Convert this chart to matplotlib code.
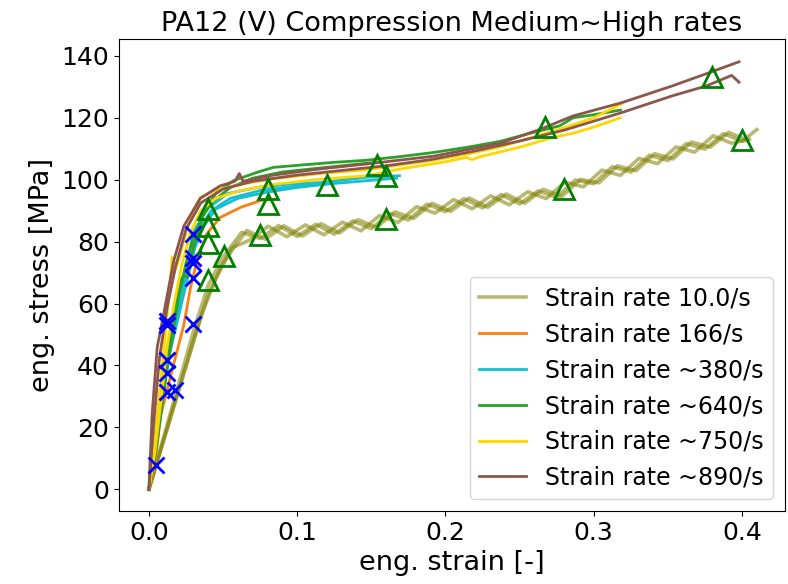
import matplotlib
matplotlib.use("Agg")
import matplotlib.pyplot as plt

# ---------------- data ----------------
labels = ["Strain rate 10.0/s", "Strain rate 166/s", "Strain rate ~380/s",
          "Strain rate ~640/s", "Strain rate ~750/s", "Strain rate ~890/s"]
colors = ["olive", "tab:orange", "tab:cyan", "tab:green", "gold", "tab:brown"]

# 10/s (three tests)
strain_10 = [
    [0, 0.01, 0.02, 0.03, 0.04, 0.05, 0.0625, 0.075, 0.0875, 0.1, 0.1125, 0.125, 0.1375, 0.15,
     0.1625, 0.175, 0.1875, 0.2, 0.2125, 0.225, 0.2375, 0.25, 0.2625, 0.275, 0.2875, 0.3,
     0.3125, 0.325, 0.3375, 0.35, 0.3625, 0.375, 0.3875, 0.4, 0.41],
    [0, 0.012, 0.024, 0.036, 0.046, 0.056, 0.068, 0.0805, 0.093, 0.1055, 0.118, 0.1305, 0.143,
     0.1555, 0.168, 0.1805, 0.193, 0.2055, 0.218, 0.2305, 0.243, 0.2555, 0.268, 0.2805, 0.293,
     0.3055, 0.318, 0.3305, 0.343, 0.3555, 0.368, 0.3805, 0.393, 0.405],
    [0, 0.01, 0.02, 0.03, 0.04, 0.05, 0.058, 0.066, 0.0785, 0.091, 0.1035, 0.116, 0.1285, 0.141,
     0.1535, 0.166, 0.1785, 0.191, 0.2035, 0.216, 0.2285, 0.241, 0.2535, 0.266, 0.2785, 0.291,
     0.3035, 0.316, 0.3285, 0.341, 0.3535, 0.366, 0.3785, 0.391, 0.4035],
]
stress_10 = [
    [0, 17, 34, 51, 66, 75, 83.0, 81.0, 85.2, 81.7, 85.6, 82.4, 86.7, 84.2, 89.1, 87.0, 92.1,
     89.7, 93.9, 90.9, 95.2, 92.2, 96.4, 94.3, 99.9, 98.7, 104.2, 102.5, 107.9, 106.2, 111.7,
     109.9, 114.9, 112.4, 116.2],
    [0, 19, 38, 57, 69, 78, 80.5, 85.0, 81.6, 85.4, 82.2, 86.3, 83.5, 88.4, 86.2, 91.3, 89.2,
     93.6, 90.6, 94.8, 91.9, 96.1, 93.9, 99.2, 97.7, 103.1, 101.4, 106.9, 105.2, 110.6, 108.9,
     114.2, 111.8, 113.0],
    [0, 16, 32, 48, 63, 73, 78.5, 83.6, 80.8, 85.1, 81.8, 85.8, 82.8, 87.1, 84.6, 89.6, 87.5,
     92.4, 89.8, 94.1, 91.1, 95.4, 92.4, 96.9, 94.6, 100.1, 99.0, 104.5, 102.9, 108.4, 106.7,
     112.2, 110.5, 115.3, 112.8],
]

# 166/s
strain_166 = [[0, 0.004, 0.008, 0.017, 0.0235, 0.028, 0.0325, 0.039, 0.048, 0.062, 0.075, 0.08]]
stress_166 = [[0, 8, 24, 41, 53, 65, 74, 82.5, 87.8, 91.1, 93.2, 93.6]]

# ~380/s
strain_380 = [
    [0, 0.0033, 0.0078, 0.0123, 0.019, 0.022, 0.026, 0.030, 0.039, 0.053, 0.073, 0.095, 0.116,
     0.147, 0.169],
    [0, 0.004, 0.009, 0.014, 0.02, 0.026, 0.031, 0.037, 0.045, 0.06, 0.08, 0.1, 0.12, 0.14,
     0.159, 0.167],
    [0, 0.005, 0.01, 0.016, 0.022, 0.028, 0.034, 0.042, 0.055, 0.075, 0.1, 0.119],
]
stress_380 = [
    [0, 13.6, 31.9, 45.9, 56.7, 65, 74, 83, 90.5, 95.5, 97.5, 98.6, 99.1, 100.8, 101.3],
    [0, 12, 30, 44, 56, 68, 78, 85, 90.5, 94, 96, 97.5, 98.6, 99.4, 100.2, 100.5],
    [0, 15, 33, 50, 63, 75, 84, 90, 94, 96.5, 98, 98.6],
]

# ~640/s
strain_640 = [
    [0, 0.003, 0.006, 0.01, 0.014, 0.018, 0.0205, 0.0235, 0.026, 0.029, 0.0325, 0.037, 0.045,
     0.057, 0.073, 0.084, 0.104, 0.1245, 0.147, 0.17, 0.192, 0.215, 0.237, 0.257, 0.277, 0.286,
     0.3, 0.318],
    [0, 0.004, 0.008, 0.012, 0.016, 0.02, 0.025, 0.03, 0.036, 0.043, 0.055, 0.07, 0.09, 0.11,
     0.13, 0.153],
]
stress_640 = [
    [0, 8, 20, 35, 48, 60, 67, 69, 68.5, 76, 82.5, 89, 95.5, 99.7, 102.4, 104, 104.8, 105.6,
     106.3, 107.5, 108.8, 110.5, 112.4, 115, 117.4, 120, 121, 122.5],
    [0, 10, 24, 38, 50, 62, 73, 81, 88, 93, 97.5, 100.5, 102.5, 103.5, 104.5, 105.6],
]

# ~750/s
strain_750 = [
    [0, 0.003, 0.006, 0.009, 0.012, 0.0145, 0.0157, 0.0168, 0.02, 0.025, 0.03, 0.0347, 0.046,
     0.062, 0.084, 0.116, 0.147, 0.158, 0.192, 0.215, 0.237, 0.257, 0.277, 0.3, 0.319],
    [0, 0.004, 0.008, 0.012, 0.017, 0.022, 0.028, 0.035, 0.045, 0.062, 0.084, 0.116, 0.147,
     0.17, 0.183, 0.2, 0.214, 0.218, 0.223, 0.25, 0.273, 0.286, 0.3, 0.318],
]
stress_750 = [
    [0, 10, 25, 40, 55, 68, 75, 69.5, 74, 83, 90, 94.3, 96.8, 98.5, 100.3, 102, 103.2, 104,
     106.3, 108.3, 110.6, 113.5, 116.3, 120, 124.6],
    [0, 12, 28, 45, 60, 72, 83, 90, 94, 96.5, 98.5, 100.2, 101.3, 103.5, 104.5, 105.8, 107.2,
     106.5, 107.4, 110.5, 113.7, 115, 117, 120],
]

# ~890/s
strain_890 = [
    [0, 0.0022, 0.0056, 0.01, 0.0168, 0.0235, 0.0347, 0.048, 0.058, 0.061, 0.0635, 0.084,
     0.1156, 0.147, 0.192, 0.237, 0.264, 0.286, 0.319, 0.353, 0.378, 0.398],
    [0, 0.003, 0.007, 0.012, 0.018, 0.025, 0.035, 0.05, 0.07, 0.1, 0.13, 0.16, 0.19, 0.22,
     0.25, 0.28, 0.319, 0.353, 0.376, 0.393, 0.398],
]
stress_890 = [
    [0, 24.4, 45.9, 56.7, 73.9, 85, 94, 98, 99.5, 102, 99.5, 101.5, 103.5, 105.1, 107.6,
     111.8, 116.3, 120.6, 124.9, 130.3, 134.6, 138.1],
    [0, 20, 42, 58, 72, 84, 92.5, 97, 99.5, 101.5, 103, 104.5, 106.5, 109.3, 112.5, 116,
     121.7, 127.1, 130.3, 133.7, 131.5],
]

# markers
x_strain = [0.0045, 0.0119, 0.0122, 0.0297, 0.0119, 0.0119, 0.0119, 0.0179, 0.0297, 0.0297,
            0.0300, 0.0297]
x_stress = [8.0, 54.3, 53.1, 53.4, 41.7, 37.5, 31.5, 32.1, 82.6, 74.8, 73.0, 68.2]

tri_strain = [0.380, 0.400, 0.267, 0.2797, 0.1535, 0.160, 0.160, 0.120, 0.080, 0.080, 0.0749,
              0.040, 0.040, 0.040, 0.0505, 0.040]
tri_stress = [133.2, 112.7, 116.9, 97.1, 104.9, 101.3, 87.4, 98.3, 97.1, 92.2, 82.0,
              90.4, 85.0, 79.6, 75.4, 67.5]

# ---------------- plot ----------------
fig = plt.figure(figsize=(7.88, 5.84), dpi=100)
ax = fig.add_axes([0.1504, 0.125, 0.8458, 0.8074])

groups = [(strain_10, stress_10), (strain_166, stress_166), (strain_380, stress_380),
          (strain_640, stress_640), (strain_750, stress_750), (strain_890, stress_890)]

for (xs, ys), col, lab in zip(groups, colors, labels):
    for i, (x, y) in enumerate(zip(xs, ys)):
        kw = dict(color=col, lw=2)
        if col == "olive":
            kw.update(alpha=0.55, lw=2.6)
        ax.plot(x, y, label=lab if i == 0 else None, **kw)

ax.plot(x_strain, x_stress, linestyle="none", marker="x", color="blue", ms=11, mew=2)
ax.plot(tri_strain, tri_stress, linestyle="none", marker="^", ms=14, mew=2,
        markerfacecolor="none", markeredgecolor="green")

ax.set_xlim(-0.0205, 0.429)
ax.set_ylim(-7.0, 145.3)
ax.set_xticks([0.0, 0.1, 0.2, 0.3, 0.4])
ax.set_yticks(range(0, 141, 20))
ax.tick_params(labelsize=18)
ax.set_xlabel("eng. strain [-]", fontsize=19.5)
ax.set_ylabel("eng. stress [MPa]", fontsize=19.5)
ax.set_title("PA12 (V) Compression Medium~High rates", fontsize=19.5)
leg = ax.legend(loc="lower right", fontsize=17)

fig.savefig("out.png", dpi=100)
